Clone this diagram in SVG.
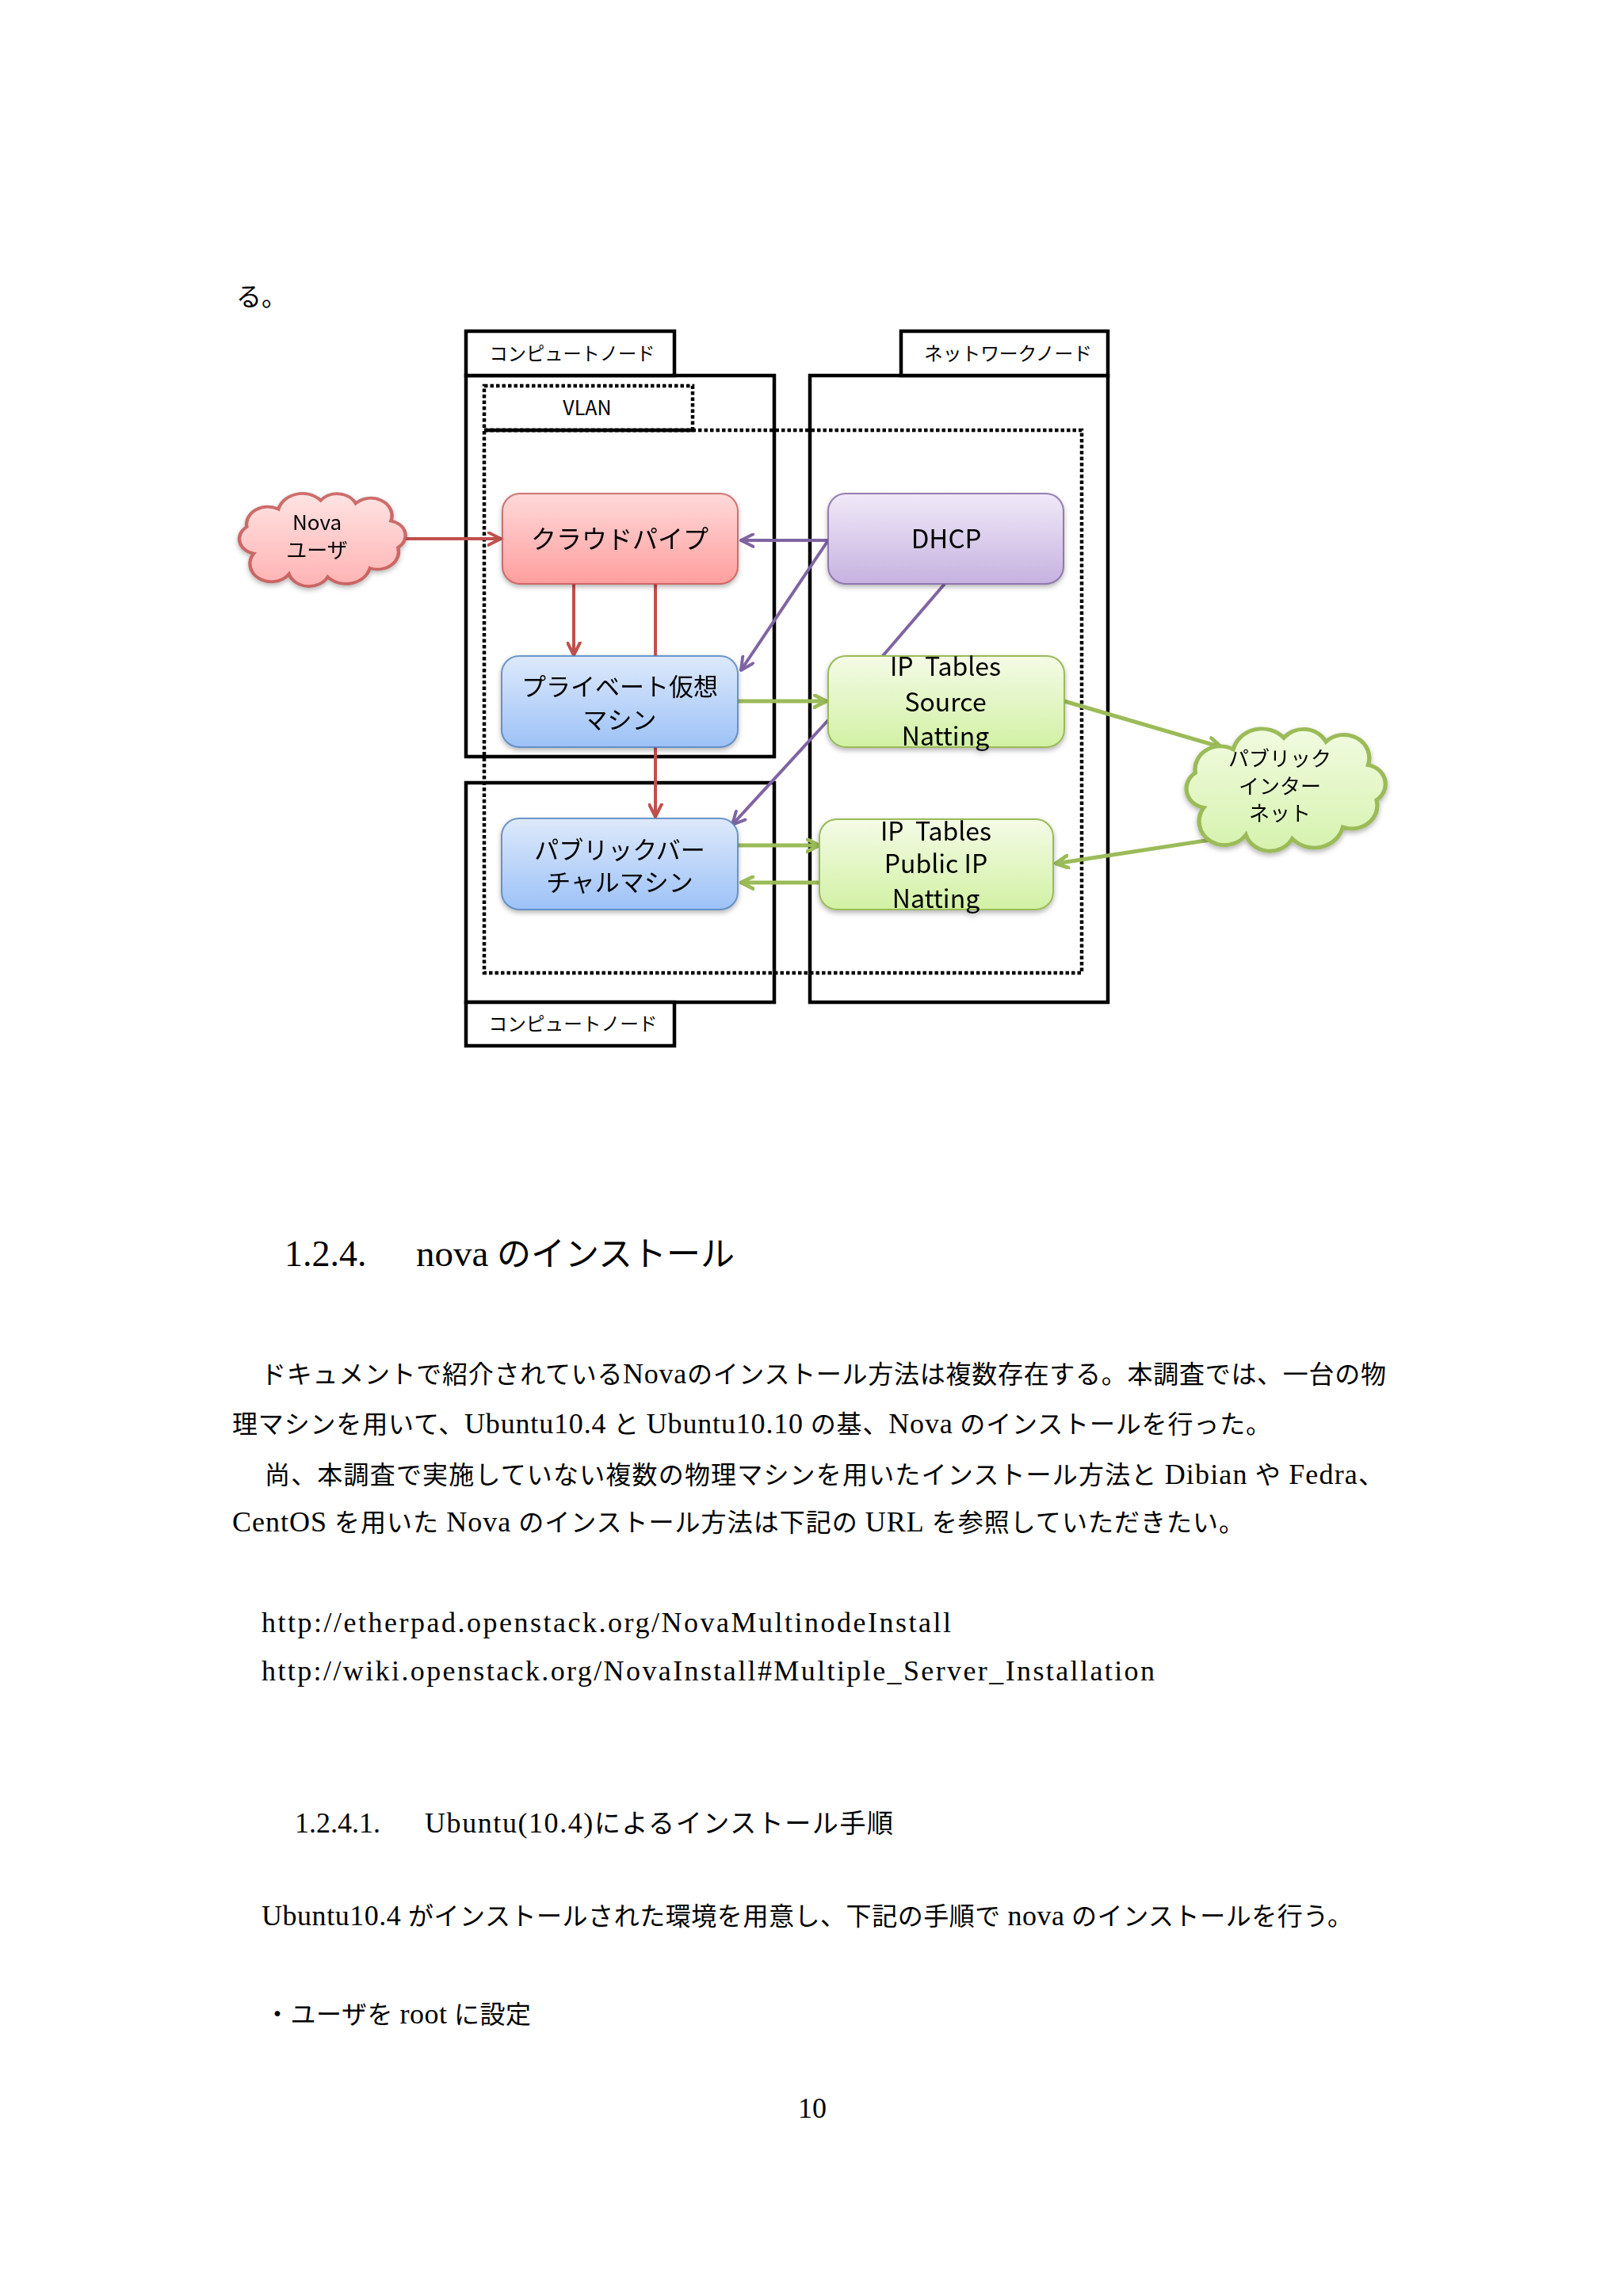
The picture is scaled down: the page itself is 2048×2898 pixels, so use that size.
<svg xmlns="http://www.w3.org/2000/svg" width="2048" height="2898" viewBox="0 0 2048 2898">
<style>
.box{fill:none;stroke:#000;stroke-width:4.5}
.tab{fill:#fff;stroke:#000;stroke-width:4.5}
.dot{fill:none;stroke:#000;stroke-width:4.5;stroke-dasharray:4.5 3}
.lbl{font-family:"Noto Sans CJK JP","Noto Sans",sans-serif;fill:#000;text-anchor:middle}
.body{font-family:"Liberation Serif","Noto Sans CJK JP",serif;fill:#000;font-size:32px}
.L{font-size:36px}
.red{stroke:#C0504D;stroke-width:4;fill:none}
.pur{stroke:#8064A2;stroke-width:4;fill:none}
.grn{stroke:#9BBB59;stroke-width:5;fill:none}
.node{filter:url(#sh)}
</style>
<defs>
<filter id="sh" x="-10%" y="-10%" width="120%" height="130%">
<feDropShadow dx="0" dy="3" stdDeviation="3" flood-color="#000" flood-opacity="0.3"/>
</filter>
<linearGradient id="gRed" x1="0" y1="0" x2="0" y2="1"><stop offset="0" stop-color="#FFD9D9"/><stop offset="1" stop-color="#FF9E9E"/></linearGradient>
<linearGradient id="gPur" x1="0" y1="0" x2="0" y2="1"><stop offset="0" stop-color="#F0E9F8"/><stop offset="1" stop-color="#C6B2E0"/></linearGradient>
<linearGradient id="gBlu" x1="0" y1="0" x2="0" y2="1"><stop offset="0" stop-color="#DDE9FB"/><stop offset="1" stop-color="#9DC2F7"/></linearGradient>
<linearGradient id="gGrn" x1="0" y1="0" x2="0" y2="1"><stop offset="0" stop-color="#F4FBE6"/><stop offset="1" stop-color="#D2F1A4"/></linearGradient>
<linearGradient id="gCRed" x1="0" y1="0" x2="0" y2="1"><stop offset="0" stop-color="#FFE3E3"/><stop offset="1" stop-color="#FFB2B2"/></linearGradient>
<linearGradient id="gCGrn" x1="0" y1="0" x2="0" y2="1"><stop offset="0" stop-color="#F1FBE0"/><stop offset="1" stop-color="#D6F2AE"/></linearGradient>
<path id="cloud" d="M12,42 A10,10 0 0 1 8,24 A12,12 0 0 1 26,12 A14,14 0 0 1 50,6 A12,12 0 0 1 70,8 A12,12 0 0 1 90,20 A10,10 0 0 1 94,38 A12,12 0 0 1 78,52 A14,14 0 0 1 54,58 A12,12 0 0 1 32,56 A12,12 0 0 1 12,42 Z"/>
<marker id="aRed" markerUnits="userSpaceOnUse" viewBox="0 0 12 12" refX="11" refY="6" markerWidth="19" markerHeight="19" orient="auto"><path d="M1,1 L11,6 L1,11" fill="none" stroke="#C0504D" stroke-width="2.5" stroke-linecap="round" stroke-linejoin="round"/></marker>
<marker id="aPur" markerUnits="userSpaceOnUse" viewBox="0 0 12 12" refX="11" refY="6" markerWidth="19" markerHeight="19" orient="auto"><path d="M1,1 L11,6 L1,11" fill="none" stroke="#8064A2" stroke-width="2.5" stroke-linecap="round" stroke-linejoin="round"/></marker>
<marker id="aGrn" markerUnits="userSpaceOnUse" viewBox="0 0 12 12" refX="11" refY="6" markerWidth="19" markerHeight="19" orient="auto"><path d="M1,1 L11,6 L1,11" fill="none" stroke="#9BBB59" stroke-width="3" stroke-linecap="round" stroke-linejoin="round"/></marker>
</defs>
<rect width="2048" height="2898" fill="#fff"/>

<text class="body" x="298" y="386">る。</text>

<g id="containers">
<g id="compute-node-1">
<rect class="box" x="588" y="474" width="389" height="481"/>
<rect class="tab" x="588" y="418" width="263" height="56"/>
<text class="lbl" x="722" y="455" font-size="24" textLength="209" lengthAdjust="spacingAndGlyphs">コンピュートノード</text>
</g>
<g id="network-node">
<rect class="box" x="1022" y="474" width="376" height="791"/>
<rect class="tab" x="1137" y="418" width="261" height="56"/>
<text class="lbl" x="1272" y="455" font-size="24" textLength="212" lengthAdjust="spacingAndGlyphs">ネットワークノード</text>
</g>
<g id="compute-node-2">
<rect class="box" x="588" y="988" width="389" height="277"/>
<rect class="tab" x="588" y="1265" width="263" height="55"/>
<text class="lbl" x="723" y="1301" font-size="24" textLength="213" lengthAdjust="spacingAndGlyphs">コンピュートノード</text>
</g>
<g id="vlan">
<rect class="dot" x="611" y="543" width="754" height="685"/>
<rect class="dot" x="611" y="487" width="263" height="56"/>
<line x1="611" y1="543" x2="874" y2="543" stroke="#000" stroke-width="4.5"/>
<text class="lbl" x="741" y="524" font-size="25">VLAN</text>
</g>
</g>

<g id="connectors">
<line class="red" x1="512" y1="680" x2="632" y2="680" marker-end="url(#aRed)"/>
<line class="red" x1="724" y1="737" x2="724" y2="827" marker-end="url(#aRed)"/>
<line class="red" x1="827" y1="737" x2="827" y2="1031" marker-end="url(#aRed)"/>
<line class="pur" x1="1045" y1="682" x2="935" y2="682" marker-end="url(#aPur)"/>
<line class="pur" x1="1045" y1="682" x2="935" y2="846" marker-end="url(#aPur)"/>
<line class="pur" x1="1192" y1="737" x2="1113" y2="829"/>
<line class="pur" x1="1045" y1="909" x2="924" y2="1041" marker-end="url(#aPur)"/>
<line class="grn" x1="931" y1="885" x2="1043" y2="885" marker-end="url(#aGrn)"/>
<line class="grn" x1="1343" y1="885" x2="1541" y2="943" marker-end="url(#aGrn)"/>
<line class="grn" x1="931" y1="1067" x2="1034" y2="1067" marker-end="url(#aGrn)"/>
<line class="grn" x1="1034" y1="1114" x2="935" y2="1114" marker-end="url(#aGrn)"/>
<line class="grn" x1="1547" y1="1057" x2="1332" y2="1090" marker-end="url(#aGrn)"/>
</g>

<g id="nova-user" class="node">
<use href="#cloud" transform="translate(293.6 620.4) scale(2.22 1.86)" fill="url(#gCRed)" stroke="#C0504D" stroke-opacity="0.8" stroke-width="2" vector-effect="non-scaling-stroke"/>
<text class="lbl" x="400" y="669" font-size="26">Nova</text>
<text class="lbl" x="400" y="704" font-size="26">ユーザ</text>
</g>

<g id="public-internet" class="node">
<use href="#cloud" transform="translate(1487 916.6) scale(2.66 2.45)" fill="url(#gCGrn)" stroke="#9BBB59" stroke-width="2" vector-effect="non-scaling-stroke"/>
<text class="lbl" x="1615" y="967" font-size="26">パブリック</text>
<text class="lbl" x="1615" y="1002" font-size="26">インター</text>
<text class="lbl" x="1615" y="1036" font-size="26">ネット</text>
</g>

<g id="cloudpipe" class="node">
<rect x="634" y="623" width="297" height="114" rx="22" fill="url(#gRed)" stroke="#C0504D" stroke-opacity="0.75" stroke-width="2"/>
<text class="lbl" x="782" y="692" font-size="32">クラウドパイプ</text>
</g>

<g id="dhcp" class="node">
<rect x="1045" y="623" width="297" height="114" rx="22" fill="url(#gPur)" stroke="#8064A2" stroke-opacity="0.8" stroke-width="2"/>
<text class="lbl" x="1194" y="692" font-size="33">DHCP</text>
</g>

<g id="private-vm" class="node">
<rect x="633" y="828" width="298" height="115" rx="22" fill="url(#gBlu)" stroke="#4F81BD" stroke-opacity="0.8" stroke-width="2"/>
<text class="lbl" x="782" y="878" font-size="31">プライベート仮想</text>
<text class="lbl" x="782" y="920" font-size="31">マシン</text>
</g>

<g id="iptables-source" class="node">
<rect x="1045" y="828" width="298" height="115" rx="22" fill="url(#gGrn)" stroke="#9BBB59" stroke-width="2"/>
<text class="lbl" x="1193" y="853" font-size="32" xml:space="preserve">IP  Tables</text>
<text class="lbl" x="1193" y="898" font-size="32">Source</text>
<text class="lbl" x="1193" y="941" font-size="32">Natting</text>
</g>

<g id="public-vm" class="node">
<rect x="633" y="1033" width="298" height="115" rx="22" fill="url(#gBlu)" stroke="#4F81BD" stroke-opacity="0.8" stroke-width="2"/>
<text class="lbl" x="782" y="1084" font-size="31">パブリックバー</text>
<text class="lbl" x="782" y="1125" font-size="31">チャルマシン</text>
</g>

<g id="iptables-public" class="node">
<rect x="1034" y="1034" width="295" height="114" rx="22" fill="url(#gGrn)" stroke="#9BBB59" stroke-width="2"/>
<text class="lbl" x="1181" y="1061" font-size="32" xml:space="preserve">IP  Tables</text>
<text class="lbl" x="1181" y="1102" font-size="32">Public IP</text>
<text class="lbl" x="1181" y="1146" font-size="32">Natting</text>
</g>

<g id="body-text">
<text class="body" x="359" y="1598" style="font-size:46px">1.2.4.</text>
<text class="body" x="525" y="1598" style="font-size:43px" textLength="402" lengthAdjust="spacing"><tspan style="font-size:47px">nova</tspan> のインストール</text>
<text class="body" x="329" y="1746" textLength="1420" lengthAdjust="spacing">ドキュメントで紹介されている<tspan class="L">Nova</tspan>のインストール方法は複数存在する。本調査では、一台の物</text>
<text class="body" x="293" y="1809" textLength="1311" lengthAdjust="spacing">理マシンを用いて、<tspan class="L">Ubuntu10.4</tspan> と <tspan class="L">Ubuntu10.10</tspan> の基、<tspan class="L">Nova</tspan> のインストールを行った。</text>
<text class="body" x="334" y="1873" textLength="1412" lengthAdjust="spacing">尚、本調査で実施していない複数の物理マシンを用いたインストール方法と <tspan class="L">Dibian</tspan> や <tspan class="L">Fedra</tspan>、</text>
<text class="body" x="293" y="1933" textLength="1277" lengthAdjust="spacing"><tspan class="L">CentOS</tspan> を用いた <tspan class="L">Nova</tspan> のインストール方法は下記の <tspan class="L">URL</tspan> を参照していただきたい。</text>
<text class="body" x="330" y="2060" style="font-size:36px" textLength="870" lengthAdjust="spacing">http://etherpad.openstack.org/NovaMultinodeInstall</text>
<text class="body" x="330" y="2121" style="font-size:36px" textLength="1127" lengthAdjust="spacing">http://wiki.openstack.org/NovaInstall#Multiple_Server_Installation</text>
<text class="body" x="372" y="2313" style="font-size:36px">1.2.4.1.</text>
<text class="body" x="536" y="2313" style="font-size:33px" textLength="591" lengthAdjust="spacing"><tspan class="L">Ubuntu(10.4)</tspan>によるインストール手順</text>
<text class="body" x="330" y="2430" textLength="1377" lengthAdjust="spacing"><tspan class="L">Ubuntu10.4</tspan> がインストールされた環境を用意し、下記の手順で <tspan class="L">nova</tspan> のインストールを行う。</text>
<text class="body" x="334" y="2554" textLength="336" lengthAdjust="spacing">・ユーザを <tspan class="L">root</tspan> に設定</text>
<text class="body" x="1025" y="2673" text-anchor="middle" style="font-size:36px">10</text>
</g>
</svg>
